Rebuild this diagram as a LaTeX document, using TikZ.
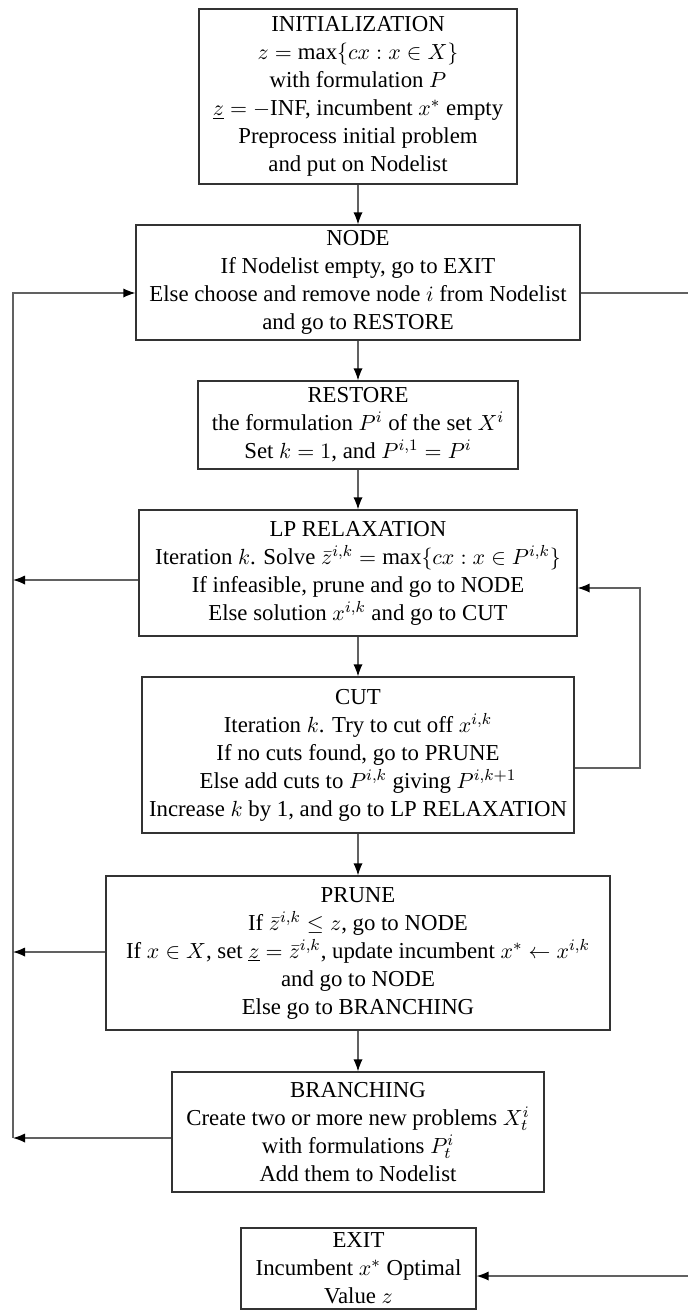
\documentclass[tikz,border=0pt]{standalone}
\usepackage{fontspec}
\setmainfont{Liberation Serif}
\usetikzlibrary{arrows.meta}
\tikzset{
  box/.style={draw=black!80, line width=0.6pt, inner sep=0pt, align=center,
    font=\fontsize{11.4}{14}\selectfont},
  conn/.style={draw=black!62, line width=0.65pt},
  tip/.style={-{Latex[length=6pt,width=4.6pt,color=black]}}
}
\begin{document}
\begin{tikzpicture}[x=0.5pt,y=-0.5pt]
\useasboundingbox (0,0) rectangle (687,1311);

\node[box, minimum width=159pt, minimum height=87.5pt] (init) at (358,96.5)
 {INITIALIZATION\\ $z=\max\{cx : x\in X\}$\\ with formulation $P$\\
  $\underline{z}=-$INF, incumbent $x^*$ empty\\ Preprocess initial problem\\ and put on Nodelist};

\node[box, minimum width=222pt, minimum height=57.5pt] (nodeb) at (358,282.5)
 {NODE\\ If Nodelist empty, go to EXIT\\ Else choose and remove node $i$ from Nodelist\\ and go to RESTORE};

\node[box, minimum width=160pt, minimum height=44pt] (restore) at (358,425)
 {RESTORE\\ the formulation $P^i$ of the set $X^i$\\ Set $k=1$, and $P^{i,1}=P^i$};

\node[box, minimum width=219pt, minimum height=63pt] (lp) at (358,573)
 {LP RELAXATION\\ Iteration $k$. Solve $\bar z^{i,k}=\max\{cx : x\in P^{i,k}\}$\\
  If infeasible, prune and go to NODE\\ Else solution $x^{i,k}$ and go to CUT};

\node[box, minimum width=216pt, minimum height=78pt] (cut) at (358,755)
 {CUT\\ Iteration $k$. Try to cut off $x^{i,k}$\\ If no cuts found, go to PRUNE\\
  Else add cuts to $P^{i,k}$ giving $P^{i,k+1}$\\ Increase $k$ by 1, and go to LP RELAXATION};

\node[box, minimum width=252pt, minimum height=77pt] (prune) at (358,953)
 {PRUNE\\ If $\bar z^{i,k}\le z$, go to NODE\\
  If $x\in X$, set $\underline{z}=\bar z^{i,k}$, update incumbent $x^*\leftarrow x^{i,k}$\\
  and go to NODE\\ Else go to BRANCHING};

\node[box, minimum width=186pt, minimum height=60pt] (branch) at (358,1132)
 {BRANCHING\\ Create two or more new problems $X^i_t$\\ with formulations $P^i_t$\\ Add them to Nodelist};

\node[box, minimum width=117.5pt, minimum height=40.5pt] (exit) at (358.5,1268.5)
 {EXIT\\ Incumbent $x^*$ Optimal\\ Value $z$};

% main flow
\draw[conn, tip] (init) -- (nodeb);
\draw[conn, tip] (nodeb) -- (restore);
\draw[conn, tip] (restore) -- (lp);
\draw[conn, tip] (lp) -- (cut);
\draw[conn, tip] (cut) -- (prune);
\draw[conn, tip] (prune) -- (branch);

% left return line
\coordinate (ltop) at (13,293);
\coordinate (lbot) at (13,1138);
\coordinate (llp) at (13,580);
\coordinate (lpr) at (13,952);
\draw[conn, tip] (lbot) -- (ltop) -- (ltop -| nodeb.west);
\draw[conn, tip] (llp -| lp.west) -- (llp);
\draw[conn, tip] (lpr -| prune.west) -- (lpr);
\draw[conn, tip] (lbot -| branch.west) -- (lbot);

% right line to EXIT
\coordinate (rtop) at (690,293);
\coordinate (rbot) at (690,1276);
\draw[conn, tip] (rtop -| nodeb.east) -- (rtop) -- (rbot) -- (rbot -| exit.east);

% cut loop
\coordinate (ca) at (640,768);
\coordinate (cb) at (640,588);
\draw[conn, tip] (ca -| cut.east) -- (ca) -- (cb) -- (cb -| lp.east);
\end{tikzpicture}
\end{document}
